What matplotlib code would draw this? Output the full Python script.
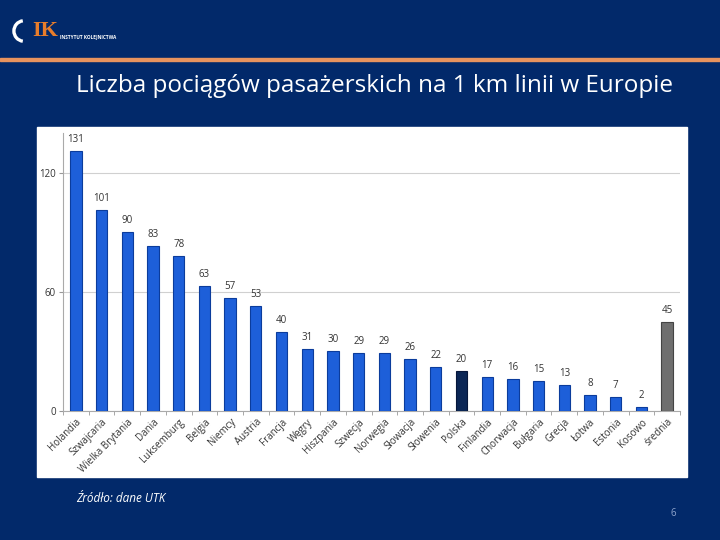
import numpy as np
import matplotlib
matplotlib.use("Agg")
import matplotlib.pyplot as plt
from matplotlib.patches import Rectangle, Arc

# dane
kraje = ['Holandia', 'Szwajcaria', 'Wielka Brytania', 'Dania', 'Luksemburg', 'Belgia',
         'Niemcy', 'Austria', 'Francja', 'Węgry', 'Hiszpania', 'Szwecja', 'Norwegia',
         'Słowacja', 'Słowenia', 'Polska', 'Finlandia', 'Chorwacja', 'Bułgaria', 'Grecja',
         'Łotwa', 'Estonia', 'Kosowo', 'średnia']
wartosci = [131, 101, 90, 83, 78, 63, 57, 53, 40, 31, 30, 29, 29, 26, 22, 20, 17, 16,
            15, 13, 8, 7, 2, 45]
yticks = [0, 60, 120]

tlo = '#02296a'
niebieski = '#1d5fd9'
kolory = [niebieski] * len(kraje)
kolory[kraje.index('Polska')] = '#0b2655'
kolory[kraje.index('średnia')] = '#6f6f6f'
krawedzie = ['#0b3c9c'] * len(kraje)
krawedzie[kraje.index('Polska')] = '#06163a'
krawedzie[kraje.index('średnia')] = '#444444'

plt.rcParams['font.family'] = ['Open Sans', 'DejaVu Sans']

fig = plt.figure(figsize=(7.2, 5.4), dpi=100)
fig.patch.set_facecolor(tlo)

W, H = 720, 540
def fx(x): return x / W
def fy(y): return 1 - y / H

# logo
fig.text(fx(32), fy(31), 'IK', color='#e87d2b', fontsize=16, fontweight='bold',
         family='Liberation Serif', va='center', ha='left')
fig.add_artist(Arc((fx(24), fy(31)), 0.028, 0.038, theta1=95, theta2=265,
                   color='white', lw=2.4, transform=fig.transFigure))
fig.text(fx(60), fy(37), 'INSTYTUT KOLEJNICTWA', color='white', fontsize=3.4,
         fontweight='bold', va='center', ha='left')
# pomarańczowa linia
fig.add_artist(Rectangle((0, fy(61)), 1, 3 / H, color='#e8935e',
                         transform=fig.transFigure, zorder=1))

# tytuł
fig.text(fx(374), fy(86), 'Liczba pociągów pasażerskich na 1 km linii w Europie',
         color='white', fontsize=17.5, ha='center', va='center')

# białe tło wykresu
fig.add_artist(Rectangle((fx(37), fy(477)), 650 / W, 350 / H, color='white',
                         transform=fig.transFigure, zorder=-1))

ax = fig.add_axes([fx(63), fy(411), (680 - 63) / W, (411 - 133) / H])
ax.set_zorder(2)
ax.set_facecolor('white')
x = np.arange(len(kraje))
ax.bar(x, wartosci, width=0.44, color=kolory, edgecolor=krawedzie, linewidth=0.8, zorder=3)
for xi, v in zip(x, wartosci):
    ax.text(xi, v + 3, str(v), ha='center', va='bottom', fontsize=7, color='#333333')

ax.set_xlim(-0.5, len(kraje) - 0.5)
ax.set_ylim(0, 140)
ax.set_yticks(yticks)
ax.set_yticklabels([str(t) for t in yticks], fontsize=7, color='#333333')
ax.yaxis.grid(True, color='#d0d0d0', lw=0.8, zorder=0)
ax.set_xticks(x)
ax.set_xticklabels(kraje, rotation=45, ha='right', rotation_mode='anchor',
                   fontsize=7, color='#333333')
ax.set_xticks(np.arange(-0.5, len(kraje), 1), minor=True)
ax.tick_params(axis='x', which='major', length=0, pad=4)
ax.tick_params(axis='x', which='minor', length=3, color='#999999')
ax.tick_params(axis='y', length=3, color='#999999', pad=2)
for s in ['top', 'right']:
    ax.spines[s].set_visible(False)
ax.spines['left'].set_color('#aaaaaa')
ax.spines['bottom'].set_color('#aaaaaa')

# stopka
fig.text(fx(76), fy(499), 'Źródło: dane UTK', color='white', fontsize=8.5,
         style='italic', ha='left', va='center')
fig.text(fx(673), fy(514), '6', color='#8ea3cc', fontsize=7, ha='center', va='center')

fig.savefig('out.png', dpi=100, facecolor=fig.get_facecolor())
